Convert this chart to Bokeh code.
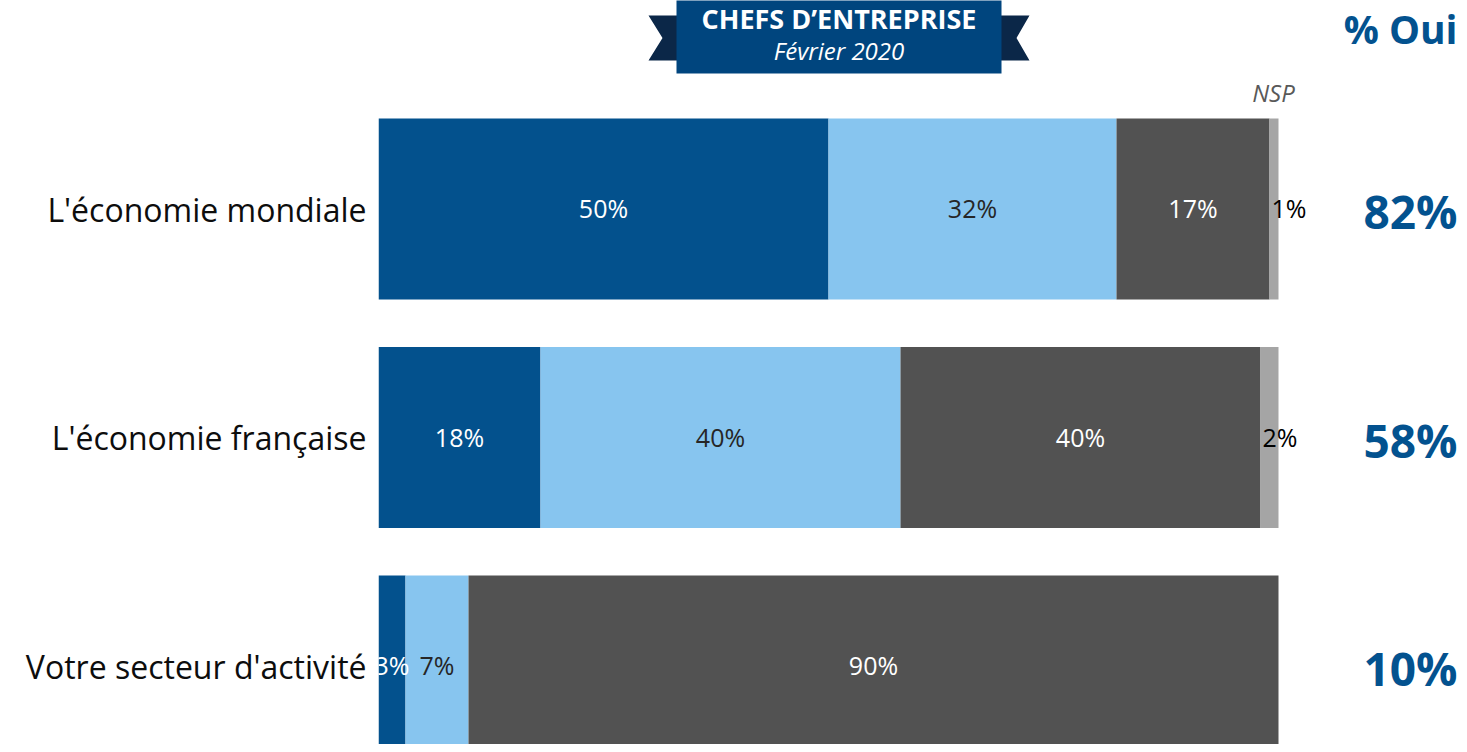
import numpy as np
from bokeh.plotting import figure
from bokeh.models import ColumnDataSource, Range1d, FixedTicker
from bokeh.core.properties import value
from bokeh.embed import file_html
from bokeh.resources import INLINE

# ---- data ----
categories = ["L'économie mondiale", "L'économie française", "Votre secteur d'activité"]
oui_tres = [50, 18, 3]
oui_assez = [32, 40, 7]
non = [17, 40, 90]
nsp = [1, 2, 0]
series_names = ["oui_tres", "oui_assez", "non", "nsp"]
series_colors = ["#03518D", "#87C5EF", "#525252", "#A5A5A5"]
label_colors = ["#FFFFFF", "#262626", "#FFFFFF", "#000000"]
banner_title = "CHEFS D\u2019ENTREPRISE"
banner_sub = "Février 2020"
oui_header = "% Oui"
nsp_header = "NSP"

FONT = "Open Sans"
W, H = 1459, 744
LEFT = 378
PX_PER_PCT = 9.0
ROW_PX = 228.5
TOP0 = -208.5 / ROW_PX

def px_x(sx):
    # canvas px -> data x
    return (sx - LEFT) / PX_PER_PCT

def px_y(sy):
    return TOP0 + sy / ROW_PX

rows = list(range(len(categories)))
source = ColumnDataSource(dict(row=rows, oui_tres=oui_tres, oui_assez=oui_assez, non=non, nsp=nsp))

p = figure(width=W, height=H, output_backend="svg", toolbar_location=None,
           x_range=Range1d(0, (W - LEFT) / PX_PER_PCT),
           y_range=Range1d(TOP0 + H / ROW_PX, TOP0),
           min_border_left=LEFT, min_border_right=0, min_border_top=0, min_border_bottom=0,
           x_axis_location=None)
p.outline_line_color = None
p.grid.visible = False
p.background_fill_color = "white"
p.border_fill_color = "white"

p.hbar_stack(series_names, y="row", height=181 / ROW_PX, color=series_colors,
             line_color=None, source=source)

# y axis with category labels
ax = p.yaxis[0]
ax.ticker = FixedTicker(ticks=rows)
ax.major_label_overrides = {i: c for i, c in enumerate(categories)}
ax.axis_line_color = None
ax.major_tick_line_color = None
ax.minor_tick_line_color = None
ax.major_tick_out = 0
ax.major_label_standoff = 12
ax.major_label_text_font = FONT
ax.major_label_text_font_size = "32px"
ax.major_label_text_color = "#0D0D0D"

# segment labels
vals = np.array([oui_tres, oui_assez, non, nsp], dtype=float)
ends = np.cumsum(vals, axis=0)
starts = ends - vals
for k in range(vals.shape[0]):
    xs, ys, ts = [], [], []
    for i in rows:
        if vals[k, i] <= 0:
            continue
        if k == 3:
            xs.append(starts[k, i])
        else:
            xs.append((starts[k, i] + ends[k, i]) / 2)
        ys.append(i)
        ts.append(f"{int(vals[k, i])}%")
    if not xs:
        continue
    p.text(x=xs, y=ys, text=ts, text_align="left" if k == 3 else "center",
           x_offset=2 if k == 3 else 0, y_offset=-1,
           text_baseline="middle", text_font=value(FONT), text_font_size="25px",
           text_color=label_colors[k])

# % Oui column
oui_total = (np.array(oui_tres) + np.array(oui_assez)).tolist()
p.text(x=[px_x(1457)] * len(rows), y=rows, text=[f"{v}%" for v in oui_total],
       text_align="right", text_baseline="middle", y_offset=2,
       text_font=value(FONT), text_font_style="bold", text_font_size="46px",
       text_color="#03528F")
p.text(x=[px_x(1457)], y=[px_y(28)], text=[oui_header], text_align="right",
       text_baseline="middle", text_font=value(FONT), text_font_style="bold",
       text_font_size="39px", text_color="#03528F")

# NSP header
p.text(x=[px_x(1273)], y=[px_y(92)], text=[nsp_header], text_align="center",
       text_baseline="middle", text_font=value(FONT), text_font_style="italic",
       text_font_size="24px", text_color="#595959")

# banner
p.patches(xs=[[px_x(648), px_x(680), px_x(680), px_x(648), px_x(662)],
              [px_x(1029), px_x(997), px_x(997), px_x(1029), px_x(1016)]],
          ys=[[px_y(15), px_y(15), px_y(60), px_y(60), px_y(37.5)]] * 2,
          fill_color="#0B2748", line_color=None)
p.quad(left=[px_x(676)], right=[px_x(1001)], top=[px_y(-5)], bottom=[px_y(73)],
       fill_color="#00457E", line_color=None)
p.text(x=[px_x(838.5)], y=[px_y(18)], text=[banner_title], text_align="center",
       text_baseline="middle", text_font=value(FONT), text_font_style="bold",
       text_font_size="27px", text_color="white")
p.text(x=[px_x(838.5)], y=[px_y(49.5)], text=[banner_sub], text_align="center",
       text_baseline="middle", text_font=value(FONT), text_font_style="italic",
       text_font_size="24px", text_color="white")

open("out.html", "w").write(file_html(p, INLINE))
